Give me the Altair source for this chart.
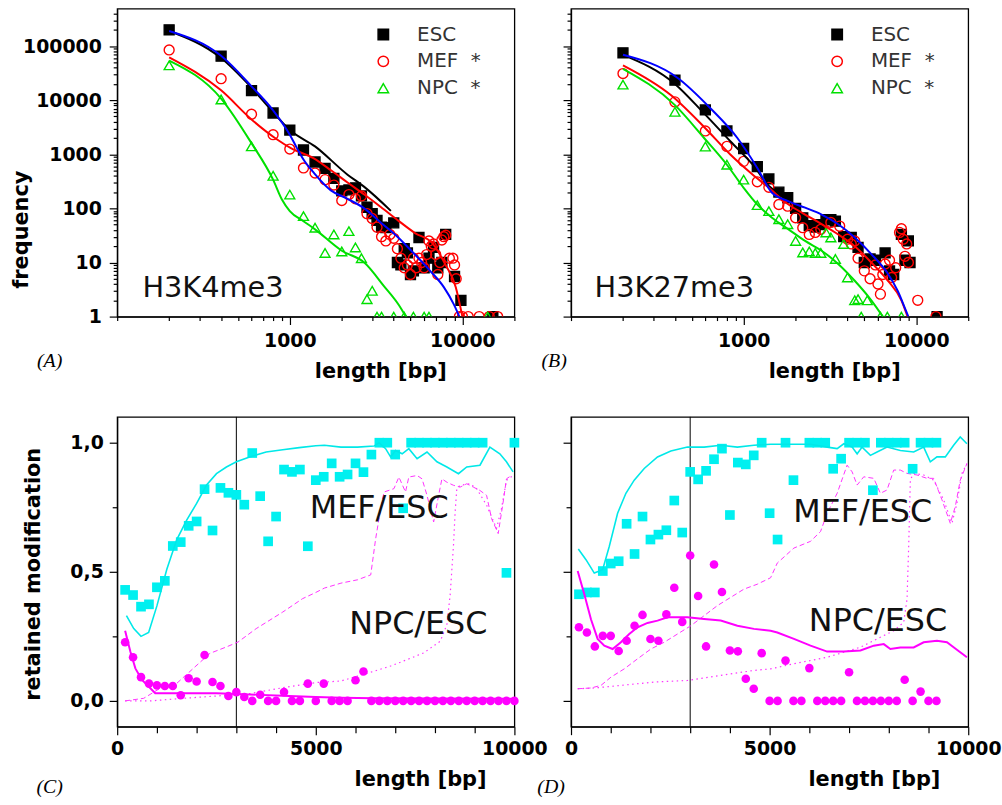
import altair as alt
import pandas as pd

FONT = "DejaVu Sans"

# ---------------- (A) H3K4me3 : frequency of domain lengths ----------------
A_ESC_LEN = [200, 400, 600, 800, 1000, 1200, 1400, 1600, 1800, 2000, 2200, 2400, 2600, 2800, 3000,
             3200, 3400, 3600, 4000, 4200, 4400, 4600, 4800, 5000, 5200, 5600, 6000, 6400, 6800, 7200,
             7600, 8000, 9000, 9800, 15000]
A_ESC_FREQ = [200000, 65000, 15000, 5800, 2800, 1200, 720, 550, 360, 210, 220, 240, 170, 105, 80,
              60, 45, 44, 54, 10, 9, 18, 15, 6, 7, 29, 8, 12, 19, 8,
              10, 33, 5.5, 2, 1]
A_MEF_LEN = [200, 400, 600, 800, 1000, 1200, 1400, 1600, 1800, 2000, 2200, 2400, 2600, 2800, 3000,
             3200, 3400, 3600, 3800, 4000, 4200, 4400, 4600, 4800, 5000, 5200, 5400, 5600, 5800, 6000,
             6200, 6400, 6600, 6800, 7000, 7200, 7400, 7600, 7800, 8000, 8400, 8800, 9000, 9200, 9600,
             10000, 10800, 12500, 14300, 16000]
A_MEF_FREQ = [85000, 25000, 5500, 2300, 1250, 560, 450, 340, 270, 140, 180, 150, 170, 80, 65,
              45, 30, 25, 33, 28, 18, 12, 8, 9, 6, 12, 8, 12, 10, 8,
              14, 25, 20, 22, 14, 6, 10, 26, 30, 32, 12, 12, 9, 5, 1,
              1, 1, 1, 1, 1]
A_NPC_LEN = [200, 400, 600, 800, 1000, 1200, 1400, 1600, 1800, 2000, 2200, 2400, 2600, 2800, 3000,
             3200, 3400, 4000, 4600, 5200, 6000, 6400, 14000]
A_NPC_FREQ = [44000, 10300, 1400, 400, 180, 72, 44, 15, 33, 16, 38, 19, 12, 2.1, 3,
              1, 1, 1, 1, 1, 1, 1, 1]
# fitted curves (A)
A_ESC_FIT_LEN = [200, 400, 600, 800, 1000, 1400, 2160, 2700, 3850]
A_ESC_FIT = [190000, 60000, 17000, 6000, 2800, 1400, 420, 250, 90]
A_MEF_FIT_LEN = [200, 400, 600, 840, 1020, 1370, 1740, 2160, 2700, 3380, 4230, 5310, 6670, 7990, 9150, 9990]
A_MEF_FIT = [62000, 15200, 4400, 1900, 1290, 850, 500, 300, 180, 105, 60, 35, 23, 9, 3.5, 1]
A_MOD_FIT_LEN = [200, 400, 600, 800, 1000, 1100, 1200, 1390, 1730, 2160, 2700, 3360, 4200, 5200, 6500,
                 7800, 8900, 9600]
A_MOD_FIT = [190000, 66000, 18000, 6500, 2300, 1300, 800, 440, 215, 150, 100, 55, 30, 15, 7, 3.5, 1.7, 1]
A_NPC_FIT_LEN = [200, 400, 600, 800, 900, 1000, 1200, 1400, 2000, 2700, 3500, 4300, 4700]
A_NPC_FIT = [54000, 10700, 1600, 340, 146, 89, 58, 41, 16.5, 10, 3.7, 1.6, 1]

# ---------------- (B) H3K27me3 ----------------
B_ESC_LEN = [200, 400, 600, 800, 1000, 1200, 1400, 1600, 1800, 2000, 2200, 2400, 2600, 2800, 3000,
             3200, 3400, 3800, 4200, 4600, 5000, 5400, 5800, 6600, 7000, 7400, 8200, 8600, 9000, 9200,
             13200]
B_ESC_FREQ = [75000, 23400, 6600, 2700, 1280, 590, 350, 200, 157, 100, 67, 48, 45, 50, 62,
              62, 58, 30, 29, 19, 10, 11.6, 11, 15, 7, 6, 33, 11, 25, 10,
              1]
B_MEF_LEN = [200, 400, 600, 800, 1000, 1200, 1400, 1600, 1800, 2000, 2200, 2400, 2600, 2800, 3200,
             3600, 4000, 4200, 4400, 4600, 5000, 5400, 5800, 6000, 6200, 6400, 6600, 7000, 7200, 7600,
             8000, 8200, 8400, 8600, 8800, 9000, 10200, 13000]
B_MEF_FREQ = [31000, 9300, 2700, 1400, 740, 310, 245, 118, 110, 67, 44, 33, 36, 41, 55,
              47, 27, 22, 25, 12, 7, 5, 9, 4, 2.6, 6, 9.4, 11, 5.3, 8,
              36, 42, 27, 13, 22, 10, 2, 1]
B_NPC_LEN = [200, 400, 600, 800, 1000, 1200, 1400, 1600, 1800, 2000, 2200, 2400, 2600, 2800, 3000,
             3200, 3400, 3800, 4000, 4400, 4600, 4800, 5200, 6200, 6800, 8200]
B_NPC_FREQ = [19400, 6100, 1390, 640, 340, 115, 89, 63, 51, 25, 15.3, 16, 15, 15, 36,
              29, 11.6, 22, 5.3, 2, 2.1, 1, 2, 1, 1, 1]
B_ESC_FIT_LEN = [200, 400, 590, 840, 1150, 1400, 1600]
B_ESC_FIT = [69000, 20000, 5700, 1720, 600, 260, 190]
B_MEF_FIT_LEN = [200, 380, 590, 840, 1100, 1400, 1820, 2270, 2830, 3530, 4400, 5490, 6850, 8200, 8900]
B_MEF_FIT = [44000, 12300, 3200, 980, 450, 240, 118, 77, 51, 33, 20, 10, 4.6, 2, 1]
B_MOD_FIT_LEN = [200, 415, 650, 920, 1200, 1460, 1820, 2270, 2830, 3530, 4400, 5490, 6850, 7800, 8700, 9000]
B_MOD_FIT = [69000, 25700, 6800, 2000, 560, 194, 135, 103, 77, 51, 29, 14.3, 6.2, 3, 1.3, 1]
B_NPC_FIT_LEN = [200, 400, 590, 800, 1000, 1200, 1460, 1820, 2270, 2830, 3530, 4400, 5490, 6400]
B_NPC_FIT = [38000, 8100, 2000, 640, 240, 118, 67, 41, 25, 16.5, 9.4, 4.6, 2, 1]

# ---------------- (C) retained modification, H3K4me3 ----------------
C_MEF_LEN = [200, 400, 600, 800, 1000, 1200, 1400, 1600, 1800, 2000, 2200, 2400, 2600, 2800, 3000,
             3200, 3400, 3600, 3800, 4000, 4200, 4400, 4600, 4800, 5000, 5200, 5400, 5600, 5800, 6000,
             6200, 6400, 6600, 6800, 7000, 7200, 7400, 7600, 7800, 8000, 8200, 8400, 8600, 8800, 9000,
             9200, 9800, 10000]
C_MEF_RATIO = [0.43, 0.41, 0.365, 0.374, 0.44, 0.465, 0.60, 0.615, 0.678, 0.695, 0.82, 0.66, 0.825, 0.806, 0.798,
               0.76, 0.96, 0.793, 0.618, 0.714, 0.896, 0.887, 0.896, 0.599, 0.855, 0.868, 0.92, 0.868, 0.877, 0.92,
               0.886, 0.954, 1.0, 1.0, 0.954, 0.746, 1.0, 1.0, 1.0, 1.0, 1.0, 1.0, 1.0, 1.0, 1.0,
               1.0, 0.496, 1.0]
C_NPC_LEN = [200, 400, 600, 800, 1000, 1200, 1400, 1600, 1800, 2000, 2200, 2400, 2600, 2800, 3000,
             3200, 3400, 3600, 3800, 4000, 4200, 4400, 4600, 4800, 5000, 5200, 5400, 5600, 5800, 6000,
             6200, 6400, 6600, 6800, 7000, 7200, 7400, 7600, 7800, 8000, 8200, 8400, 8600, 8800, 9000,
             9200, 9400, 9600, 9800, 10000]
C_NPC_RATIO = [0.227, 0.169, 0.092, 0.067, 0.06, 0.058, 0.058, 0.022, 0.088, 0.075, 0.178, 0.073, 0.058, 0.019, 0.034,
               0.015, 0.0, 0.024, 0.0, 0.0, 0.034, 0.0, 0.0, 0.067, 0.0, 0.067, 0.0, 0.0, 0.0, 0.08,
               0.114, 0.0, 0.0, 0.0, 0.0, 0.0, 0.0, 0.0, 0.0, 0.0, 0.0, 0.0, 0.0, 0.0, 0.0,
               0.0, 0.0, 0.0, 0.0, 0.0]
C_MEF_FIT_LEN = [233, 417, 600, 792, 1000, 1250, 1500, 1750, 2000, 2250, 2500, 2750, 3000, 3333, 3750,
                 4167, 4583, 5000, 5217, 5633, 6050, 6467, 6592, 6758, 6883, 7008, 7175, 7342, 7550, 7800,
                 8050, 8300, 8592, 8800, 9133, 9383, 9633, 9800, 9967]
C_MEF_FIT = [0.33, 0.28, 0.25, 0.265, 0.368, 0.51, 0.625, 0.70, 0.765, 0.836, 0.88, 0.906, 0.926, 0.945, 0.964,
             0.973, 0.981, 0.988, 0.99, 0.983, 0.983, 0.987, 1.0, 0.977, 0.945, 0.97, 0.957, 0.977, 0.938, 0.964,
             0.926, 0.906, 0.88, 0.906, 0.913, 0.983, 0.957, 0.926, 0.887]
C_NPC_FIT_LEN = [200, 333, 458, 625, 792, 958, 1667, 2500, 3333, 4167, 5000, 5633, 6467, 10000]
C_NPC_FIT = [0.272, 0.19, 0.126, 0.081, 0.056, 0.03, 0.03, 0.03, 0.025, 0.02, 0.015, 0.012, 0.01, 0.008]
C_DASH_LEN = [200, 667, 1083, 1500, 1917, 2333, 2750, 3042, 3500, 4167, 4667, 5000, 5217, 5633, 6050,
              6383, 6508, 6633, 6717, 6967, 7092, 7258, 7342, 7550, 7675, 7800, 7967, 8092, 8175, 8300,
              8467, 8633, 8800, 8967, 9133, 9300, 9425, 9592, 9717, 9800, 9925]
C_DASH = [0.0, 0.01, 0.049, 0.068, 0.126, 0.184, 0.209, 0.228, 0.28, 0.344, 0.396, 0.42, 0.437, 0.456, 0.469,
          0.488, 0.629, 0.745, 0.809, 0.822, 0.867, 0.809, 0.867, 0.873, 0.86, 0.796, 0.693, 0.796, 0.86, 0.847,
          0.835, 0.828, 0.841, 0.828, 0.815, 0.796, 0.706, 0.648, 0.77, 0.86, 0.873]
C_DOT_LEN = [200, 833, 1667, 2500, 3333, 4167, 5000, 5633, 6050, 6467, 6883, 7300, 7717, 8133, 8300,
             8383, 8467, 8508, 8550, 8633, 8883, 9050, 9300, 9550, 9675, 9800, 9967]
C_DOT = [0.0, 0.0, 0.01, 0.019, 0.028, 0.051, 0.071, 0.077, 0.096, 0.115, 0.135, 0.16, 0.186, 0.231, 0.295,
         0.411, 0.604, 0.732, 0.822, 0.835, 0.841, 0.822, 0.758, 0.668, 0.745, 0.854, 0.873]

# ---------------- (D) retained modification, H3K27me3 ----------------
D_MEF_LEN = [200, 400, 600, 800, 1000, 1200, 1400, 1600, 1800, 2000, 2200, 2400, 2600, 2800, 3000,
             3200, 3400, 3600, 3800, 4000, 4200, 4400, 4600, 4800, 5000, 5200, 5400, 5600,
             6000, 6200, 6400, 6600, 6800, 7000, 7200, 7400, 7600, 7800, 8000, 8200, 8400, 8600, 8800,
             9000, 9200]
D_MEF_RATIO = [0.413, 0.42, 0.42, 0.503, 0.532, 0.541, 0.686, 0.569, 0.714, 0.625, 0.644, 0.661, 0.776, 0.652, 0.887,
               0.858, 0.891, 0.936, 0.977, 0.72, 0.923, 0.916, 0.951, 1.0, 0.727, 0.625, 1.0, 0.855,
               1.0, 1.0, 1.0, 0.899, 0.938, 1.0, 1.0, 1.0, 0.816, 1.0, 1.0, 1.0, 1.0, 0.899, 1.0,
               1.0, 1.0]
D_NPC_LEN = [200, 400, 600, 800, 1000, 1200, 1400, 1600, 1800, 2000, 2200, 2400, 2600, 2800, 3000,
             3200, 3400, 3600, 3800, 4000, 4200, 4400, 4600, 4800, 5000, 5200, 5400, 5600, 5800, 6000,
             6200, 6400, 6600, 6800, 7000, 7200, 7400, 7600, 7800, 8000, 8200, 8400, 8600, 8800, 9000,
             9200]
D_NPC_RATIO = [0.285, 0.265, 0.211, 0.252, 0.252, 0.193, 0.233, 0.291, 0.333, 0.24, 0.233, 0.335, 0.438, 0.306, 0.563,
               0.406, 0.211, 0.528, 0.422, 0.195, 0.192, 0.086, 0.047, 0.185, 0.0, 0.0, 0.156, 0.0, 0.0, 0.127,
               0.0, 0.0, 0.0, 0.0, 0.111, 0.0, 0.0, 0.0, 0.0, 0.0, 0.0, 0.082, 0.0, 0.036, 0.0,
               0.0]
D_MEF_FIT_LEN = [184, 377, 586, 796, 963, 1173, 1382, 1591, 1843, 2178, 2513, 2931, 3350, 3769, 4188,
                 4606, 5025, 5193, 5612, 6030, 6449, 6700, 6868, 7077, 7203, 7328, 7538, 7705, 7956, 8291,
                 8627, 8878, 9045, 9213, 9423, 9632, 9799, 9967]
D_MEF_FIT = [0.588, 0.547, 0.495, 0.508, 0.598, 0.727, 0.804, 0.855, 0.9, 0.945, 0.968, 0.983, 0.983, 0.99, 0.983,
             0.99, 0.994, 0.994, 0.994, 0.994, 0.983, 0.977, 0.996, 0.983, 0.957, 0.983, 0.951, 0.964, 0.983, 0.97,
             0.964, 0.983, 0.926, 0.945, 0.945, 0.99, 1.022, 0.996]
D_NPC_FIT_LEN = [168, 335, 502, 670, 838, 1047, 1256, 1466, 1675, 1926, 2178, 2429, 2680, 2931, 3350,
                 3769, 4188, 4606, 5025, 5193, 5612, 6030, 6449, 6868, 7286, 7622, 7873, 8040, 8291, 8627,
                 8878, 9213, 9464, 9715, 9967]
D_NPC_FIT = [0.503, 0.413, 0.316, 0.24, 0.214, 0.201, 0.227, 0.259, 0.285, 0.302, 0.311, 0.324, 0.324, 0.324, 0.317,
             0.311, 0.291, 0.279, 0.272, 0.265, 0.24, 0.214, 0.191, 0.191, 0.195, 0.214, 0.22, 0.201, 0.207, 0.207,
             0.227, 0.233, 0.227, 0.198, 0.169]
D_DASH_LEN = [168, 502, 754, 1005, 1340, 1675, 2010, 2345, 2680, 3015, 3350, 3685, 4020, 4355, 4690,
              5025, 5193, 5612, 6030, 6282, 6449, 6700, 6951, 7077, 7203, 7370, 7622, 7789, 7956, 8124,
              8291, 8459, 8710, 8961, 9129, 9338, 9548, 9673, 9799, 9967]
D_DASH = [0.047, 0.05, 0.06, 0.092, 0.124, 0.163, 0.201, 0.227, 0.259, 0.291, 0.33, 0.369, 0.401, 0.433, 0.452,
          0.477, 0.534, 0.592, 0.618, 0.656, 0.727, 0.804, 0.913, 0.887, 0.836, 0.868, 0.862, 0.804, 0.817, 0.894,
          0.894, 0.881, 0.875, 0.862, 0.862, 0.779, 0.688, 0.752, 0.855, 0.919]
D_DOT_LEN = [168, 586, 1256, 2094, 2931, 3769, 4606, 5025, 5612, 6449, 7286, 7705, 8124, 8375, 8459,
             8501, 8543, 8627, 8878, 9129, 9380, 9590, 9715, 9841, 9967]
D_DOT = [0.047, 0.05, 0.06, 0.073, 0.079, 0.099, 0.118, 0.124, 0.144, 0.169, 0.208, 0.24, 0.272, 0.304, 0.394,
         0.6, 0.857, 0.881, 0.875, 0.855, 0.779, 0.688, 0.765, 0.881, 0.919]

SERIES = ["ESC", "MEF", "NPC"]
THRESHOLD = [3000]

# axis tick positions
LOG_X_TICKS = [m * 10 ** k for k in (2, 3) for m in range(1, 10)] + [10000, 20000]
LOG_Y_TICKS = [m * 10 ** k for k in range(6) for m in range(1, 10) if m * 10 ** k <= 490000]
LIN_X_TICKS = list(range(0, 10001, 1000))
LIN_Y_TICKS = [0, 0.25, 0.5, 0.75, 1.0]


def frame(xs, ys, **extra):
    d = {"len": xs, "val": ys}
    d.update(extra)
    return pd.DataFrame(d)


# ---------------- encodings ----------------
MAJ_LX = "datum.value == 1000 || datum.value == 10000"
MAJ_LY = "abs(log(datum.value) / LN10 - round(log(datum.value) / LN10)) < 0.000001"


def log_x():
    return alt.X("len:Q",
                 scale=alt.Scale(type="log", domain=[100, 20000], nice=False),
                 axis=alt.Axis(values=LOG_X_TICKS,
                               labelExpr="(" + MAJ_LX + ") ? format(datum.value, 'd') : ''",
                               tickSize={"condition": {"test": MAJ_LX, "value": 8}, "value": 4},
                               labelPadding=7,
                               title="length [bp]", titleX=265, titleY=61,
                               titleAlign="center", titleBaseline="alphabetic"))


def log_y(show):
    ax = dict(values=LOG_Y_TICKS,
              tickSize={"condition": {"test": MAJ_LY, "value": 8}, "value": 4},
              labelPadding=8)
    if show:
        ax.update(labelExpr="(" + MAJ_LY + ") ? format(datum.value, 'd') : ''",
                  title="frequency", titleX=-90, titleY=222, titleAlign="center",
                  titleBaseline="alphabetic")
    else:
        ax.update(labels=False, title=None)
    return alt.Y("val:Q", scale=alt.Scale(type="log", domain=[1, 490000], nice=False),
                 axis=alt.Axis(**ax))


def lin_x():
    return alt.X("len:Q",
                 scale=alt.Scale(domain=[0, 10000], nice=False),
                 axis=alt.Axis(values=LIN_X_TICKS,
                               labelExpr="datum.value % 5000 == 0 ? format(datum.value, 'd') : ''",
                               tickSize={"condition": {"test": "datum.value % 5000 == 0", "value": 8},
                                         "value": 6},
                               labelPadding=5,
                               title="length [bp]", titleX=305, titleY=59,
                               titleAlign="center", titleBaseline="alphabetic"))


def lin_y(show):
    ax = dict(values=LIN_Y_TICKS,
              tickSize={"condition": {"test": "datum.value == 0 || datum.value == 0.5 || datum.value == 1",
                                      "value": 8}, "value": 5},
              labelPadding=6)
    if show:
        ax.update(labelExpr="datum.value == 0 ? '0,0' : datum.value == 0.5 ? '0,5' : datum.value == 1 ? '1,0' : ''",
                  title="retained modification", titleX=-78, titleY=158, titleAlign="center",
                  titleBaseline="alphabetic")
    else:
        ax.update(labels=False, title=None)
    return alt.Y("val:Q", scale=alt.Scale(domain=[-0.1, 1.1], nice=False), axis=alt.Axis(**ax))


def note(xs, ys, text, size, xe, ye):
    return alt.Chart(frame(xs, ys, t=[text])).mark_text(
        align="left", baseline="alphabetic", font=FONT, fontSize=size, color="#111111"
    ).encode(x=xe, y=ye, text="t:N")


def letter(text, px, py):
    return alt.Chart(pd.DataFrame({"t": [text]})).mark_text(
        font="Liberation Serif", fontStyle="italic", fontSize=20, color="black", align="center",
        baseline="middle"
    ).encode(x=alt.value(px), y=alt.value(py), text="t:N")


def log_panel(esc, mef, npc, fits, name, name_pos, show_y, tag, tag_pos):
    xe, ye = log_x(), log_y(show_y)
    pts = pd.concat([frame(esc[0], esc[1], series="ESC"),
                     frame(mef[0], mef[1], series="MEF"),
                     frame(npc[0], npc[1], series="NPC")])
    legend = alt.Legend(orient="none", legendX=258, legendY=16, title=None, padding=0,
                        labelFont=FONT, labelFontSize=20, labelColor="#333333",
                        symbolSize=110, symbolStrokeWidth=1.5, rowPadding=7, labelOffset=24,
                        labelExpr="datum.label == 'ESC' ? 'ESC' : datum.label + '\u00a0\u00a0*'")
    points = alt.Chart(pts).mark_point(clip=True, size=100, strokeWidth=1.4, opacity=1).encode(
        x=xe, y=ye,
        shape=alt.Shape("series:N", scale=alt.Scale(domain=SERIES, range=["square", "circle", "triangle-up"]),
                        legend=legend),
        color=alt.Color("series:N", scale=alt.Scale(domain=SERIES, range=["#000000", "#ff0000", "#00e000"]),
                        legend=legend),
        fill=alt.Fill("series:N", scale=alt.Scale(domain=SERIES, range=["#000000", "transparent", "transparent"]),
                      legend=legend),
    )
    layers = [points]
    for (lx, ly, col) in fits:
        layers.append(alt.Chart(frame(lx, ly)).mark_line(color=col, strokeWidth=2, interpolate="monotone",
                                                         clip=True).encode(x=xe, y=ye))
    layers.append(note([name_pos[0]], [name_pos[1]], name, 29, xe, ye))
    layers.append(letter(tag, tag_pos[0], tag_pos[1]))
    return alt.layer(*layers).properties(width=400, height=310)


def ratio_panel(mef, npc, mef_fit, npc_fit, dash, dot, mef_pos, npc_pos, show_y, tag, tag_pos):
    xe, ye = lin_x(), lin_y(show_y)
    layers = [
        alt.Chart(frame(THRESHOLD, [0])).mark_rule(color="black", strokeWidth=1).encode(x=xe),
        alt.Chart(frame(dash[0], dash[1])).mark_line(color="#ff33ff", strokeWidth=1, strokeDash=[5, 3]).encode(x=xe, y=ye),
        alt.Chart(frame(dot[0], dot[1])).mark_line(color="#ff33ff", strokeWidth=1.2, strokeDash=[1.5, 3.5]).encode(x=xe, y=ye),
        alt.Chart(frame(mef[0], mef[1])).mark_square(color="#00f0f0", size=95, opacity=1).encode(x=xe, y=ye),
        alt.Chart(frame(npc[0], npc[1])).mark_circle(color="#ff00ff", size=75, opacity=1).encode(x=xe, y=ye),
        alt.Chart(frame(mef_fit[0], mef_fit[1])).mark_line(color="#00e8e8", strokeWidth=1.6).encode(x=xe, y=ye),
        alt.Chart(frame(npc_fit[0], npc_fit[1])).mark_line(color="#ff00ff", strokeWidth=2).encode(x=xe, y=ye),
        note([mef_pos[0]], [mef_pos[1]], "MEF/ESC", 32, xe, ye),
        note([npc_pos[0]], [npc_pos[1]], "NPC/ESC", 32, xe, ye),
        letter(tag, tag_pos[0], tag_pos[1]),
    ]
    return alt.layer(*layers).properties(width=400, height=312)


panel_a = log_panel((A_ESC_LEN, A_ESC_FREQ), (A_MEF_LEN, A_MEF_FREQ), (A_NPC_LEN, A_NPC_FREQ),
                    [(A_ESC_FIT_LEN, A_ESC_FIT, "#000000"), (A_MEF_FIT_LEN, A_MEF_FIT, "#ff0000"),
                     (A_NPC_FIT_LEN, A_NPC_FIT, "#00e000"), (A_MOD_FIT_LEN, A_MOD_FIT, "#0000ff")],
                    "H3K4me3", (140, 2.33), True, "(A)", (-68, 355))
panel_b = log_panel((B_ESC_LEN, B_ESC_FREQ), (B_MEF_LEN, B_MEF_FREQ), (B_NPC_LEN, B_NPC_FREQ),
                    [(B_ESC_FIT_LEN, B_ESC_FIT, "#000000"), (B_MEF_FIT_LEN, B_MEF_FIT, "#ff0000"),
                     (B_NPC_FIT_LEN, B_NPC_FIT, "#00e000"), (B_MOD_FIT_LEN, B_MOD_FIT, "#0000ff")],
                    "H3K27me3", (137, 2.33), False, "(B)", (-17, 355))
panel_c = ratio_panel((C_MEF_LEN, C_MEF_RATIO), (C_NPC_LEN, C_NPC_RATIO), (C_MEF_FIT_LEN, C_MEF_FIT),
                      (C_NPC_FIT_LEN, C_NPC_FIT), (C_DASH_LEN, C_DASH), (C_DOT_LEN, C_DOT),
                      (4850, 0.708), (5842, 0.258), True, "(C)", (-68, 373))
panel_d = ratio_panel((D_MEF_LEN, D_MEF_RATIO), (D_NPC_LEN, D_NPC_RATIO), (D_MEF_FIT_LEN, D_MEF_FIT),
                      (D_NPC_FIT_LEN, D_NPC_FIT), (D_DASH_LEN, D_DASH), (D_DOT_LEN, D_DOT),
                      (5595, 0.692), (5988, 0.272), False, "(D)", (-20, 373))

chart = alt.concat(panel_a, panel_b, panel_c, panel_d, columns=2,
                   spacing={"row": 101, "column": 57}, bounds="flush"
                   ).resolve_scale(color="independent", shape="independent", fill="independent"
                   ).properties(padding={"left": 10, "top": 1, "right": 0, "bottom": 0}, background="white"
                   ).configure_view(stroke="black", strokeWidth=1.3
                   ).configure_axis(labelFont=FONT, labelFontWeight="bold", labelFontSize=19, labelColor="black",
                                    titleFont=FONT, titleFontWeight="bold", titleFontSize=21, titleColor="black",
                                    domainColor="black", domainWidth=1.3, tickColor="black", tickWidth=1.2,
                                    grid=False, labelFlush=False, labelOverlap=False)

chart.save("out.html", embed_options={"renderer": "svg", "actions": False})
